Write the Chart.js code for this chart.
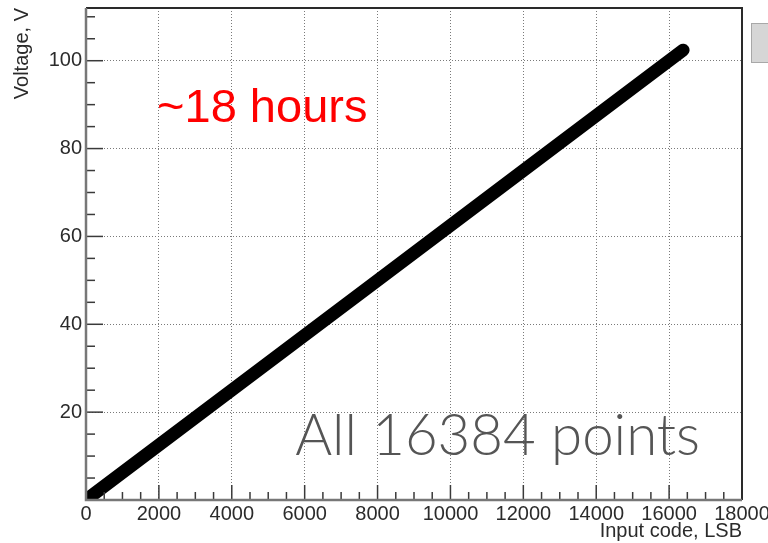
<!DOCTYPE html>
<html>
<head>
<meta charset="utf-8">
<script src="https://cdn.jsdelivr.net/npm/chart.js@4"></script>
<style>
  body { margin: 0; background: #fff; }
  #wrap { width: 768px; height: 543px; }
</style>
</head>
<body>
<div id="wrap"><canvas id="dac-chart" width="768" height="543"></canvas></div>
<script>
// DAC transfer curve: input code vs output voltage
const inputCodes = [0, 4000, 8000, 12000, 16383];
const voltages = [0, 25, 50, 75, 102.4];

const xTickValues = [0, 2000, 4000, 6000, 8000, 10000, 12000, 14000, 16000, 18000];
const yTickValues = [20, 40, 60, 80, 100];

const xLabel = 'Input code, LSB';
const yLabel = 'Voltage, V';
const noteTime = '~18 hours';
const notePoints = 'All 16384 points';

const tickFont = { family: 'Liberation Sans', size: 20 };
const inkColor = '#2b2b2b';

// ROOT-style inner ticks (major + 4 minor divisions), frame and notes
const rootFramePlugin = {
    id: 'rootFrame',
    afterDraw(chart) {
        const ctx = chart.ctx;
        const area = chart.chartArea;
        const xs = chart.scales.x;
        const ys = chart.scales.y;
        ctx.save();

        // tick marks drawn inside the frame
        ctx.strokeStyle = '#3a3a3a';
        ctx.lineWidth = 1.5;
        for (let i = 0; i < xTickValues.length - 1; i++) {
            const step = (xTickValues[i + 1] - xTickValues[i]) / 4;
            for (let k = 0; k < 4; k++) {
                const px = xs.getPixelForValue(xTickValues[i] + k * step);
                const len = k === 0 ? 15 : 8;
                ctx.beginPath();
                ctx.moveTo(px, area.bottom);
                ctx.lineTo(px, area.bottom - len);
                ctx.stroke();
            }
        }
        const yMajors = [0].concat(yTickValues);
        for (let i = 0; i < yMajors.length; i++) {
            const step = 5;
            for (let k = 0; k < 4; k++) {
                const v = yMajors[i] + k * step;
                if (v > ys.max) break;
                const py = ys.getPixelForValue(v);
                const len = k === 0 ? 17 : 9;
                ctx.beginPath();
                ctx.moveTo(area.left, py);
                ctx.lineTo(area.left + len, py);
                ctx.stroke();
            }
        }

        // frame
        ctx.strokeStyle = '#2a2a2a';
        ctx.lineWidth = 2;
        ctx.beginPath();
        ctx.moveTo(area.left, area.top);
        ctx.lineTo(area.right, area.top);
        ctx.lineTo(area.right, area.bottom);
        ctx.stroke();
        ctx.strokeStyle = '#777777';
        ctx.lineWidth = 2.5;
        ctx.beginPath();
        ctx.moveTo(area.left, area.top);
        ctx.lineTo(area.left, area.bottom);
        ctx.lineTo(area.right, area.bottom);
        ctx.stroke();

        // red note
        ctx.fillStyle = '#ff0000';
        ctx.font = '47px "Liberation Sans"';
        ctx.textBaseline = 'alphabetic';
        ctx.textAlign = 'left';
        ctx.fillText(noteTime, xs.getPixelForValue(1950), ys.getPixelForValue(86));

        // grey note, fitted to its width in the picture
        ctx.fillStyle = '#555555';
        ctx.font = '300 60px Lato';
        const w = ctx.measureText(notePoints).width;
        const target = xs.getPixelForValue(16850) - xs.getPixelForValue(5740);
        const size = 60 * target / w;
        ctx.font = `300 ${size.toFixed(1)}px Lato`;
        ctx.fillText(notePoints, xs.getPixelForValue(5740), ys.getPixelForValue(10.2));

        // clipped legend box at the right edge
        ctx.fillStyle = '#d6d6d6';
        ctx.strokeStyle = '#a8a8a8';
        ctx.lineWidth = 1;
        ctx.fillRect(751, 23, 30, 39);
        ctx.strokeRect(751.5, 23.5, 30, 39);
        ctx.restore();
    }
};

const ctx = document.getElementById('dac-chart').getContext('2d');
const dacChart = new Chart(ctx, {
    type: 'line',
    data: {
        datasets: [{
            data: inputCodes.map((c, i) => ({ x: c, y: voltages[i] })),
            borderColor: '#000000',
            borderWidth: 13,
            borderCapStyle: 'round',
            borderJoinStyle: 'round',
            pointRadius: 0,
            tension: 0,
            fill: false
        }]
    },
    options: {
        responsive: false,
        animation: false,
        layout: { padding: { top: 8, right: 26, left: 0, bottom: 0 } },
        plugins: {
            legend: { display: false },
            tooltip: { enabled: false }
        },
        scales: {
            x: {
                type: 'linear',
                min: 0,
                max: 18000,
                afterBuildTicks: (scale) => {
                    scale.ticks = xTickValues.map(v => ({ value: v }));
                },
                afterFit: (scale) => {
                    scale.height = 43;
                    scale.paddingLeft = 0;
                    scale.paddingRight = 0;
                },
                ticks: {
                    font: tickFont,
                    color: inkColor,
                    padding: 2,
                    maxRotation: 0,
                    autoSkip: false,
                    callback: (v) => String(v)
                },
                grid: {
                    drawTicks: false,
                    color: (c) => (c.tick && (c.tick.value === 0 || c.tick.value === 18000)) ? 'rgba(0,0,0,0)' : '#7a7a7a',
                    lineWidth: 1
                },
                border: { display: false, dash: [1, 2] },
                title: {
                    display: true,
                    text: xLabel,
                    align: 'end',
                    color: inkColor,
                    font: { family: 'Liberation Sans', size: 20 },
                    padding: { top: 0, bottom: 0 }
                }
            },
            y: {
                type: 'linear',
                min: 0,
                max: 112,
                afterBuildTicks: (scale) => {
                    scale.ticks = yTickValues.map(v => ({ value: v }));
                },
                afterFit: (scale) => {
                    scale.width = 86;
                    scale.paddingTop = 0;
                    scale.paddingBottom = 0;
                },
                ticks: {
                    font: tickFont,
                    color: inkColor,
                    padding: 4,
                    callback: (v) => String(v)
                },
                grid: {
                    drawTicks: false,
                    color: '#7a7a7a',
                    lineWidth: 1
                },
                border: { display: false, dash: [1, 2] },
                title: {
                    display: true,
                    text: yLabel,
                    align: 'end',
                    color: inkColor,
                    font: { family: 'Liberation Sans', size: 20 },
                    padding: { top: 10, bottom: 0 }
                }
            }
        }
    },
    plugins: [rootFramePlugin]
});
</script>
</body>
</html>
